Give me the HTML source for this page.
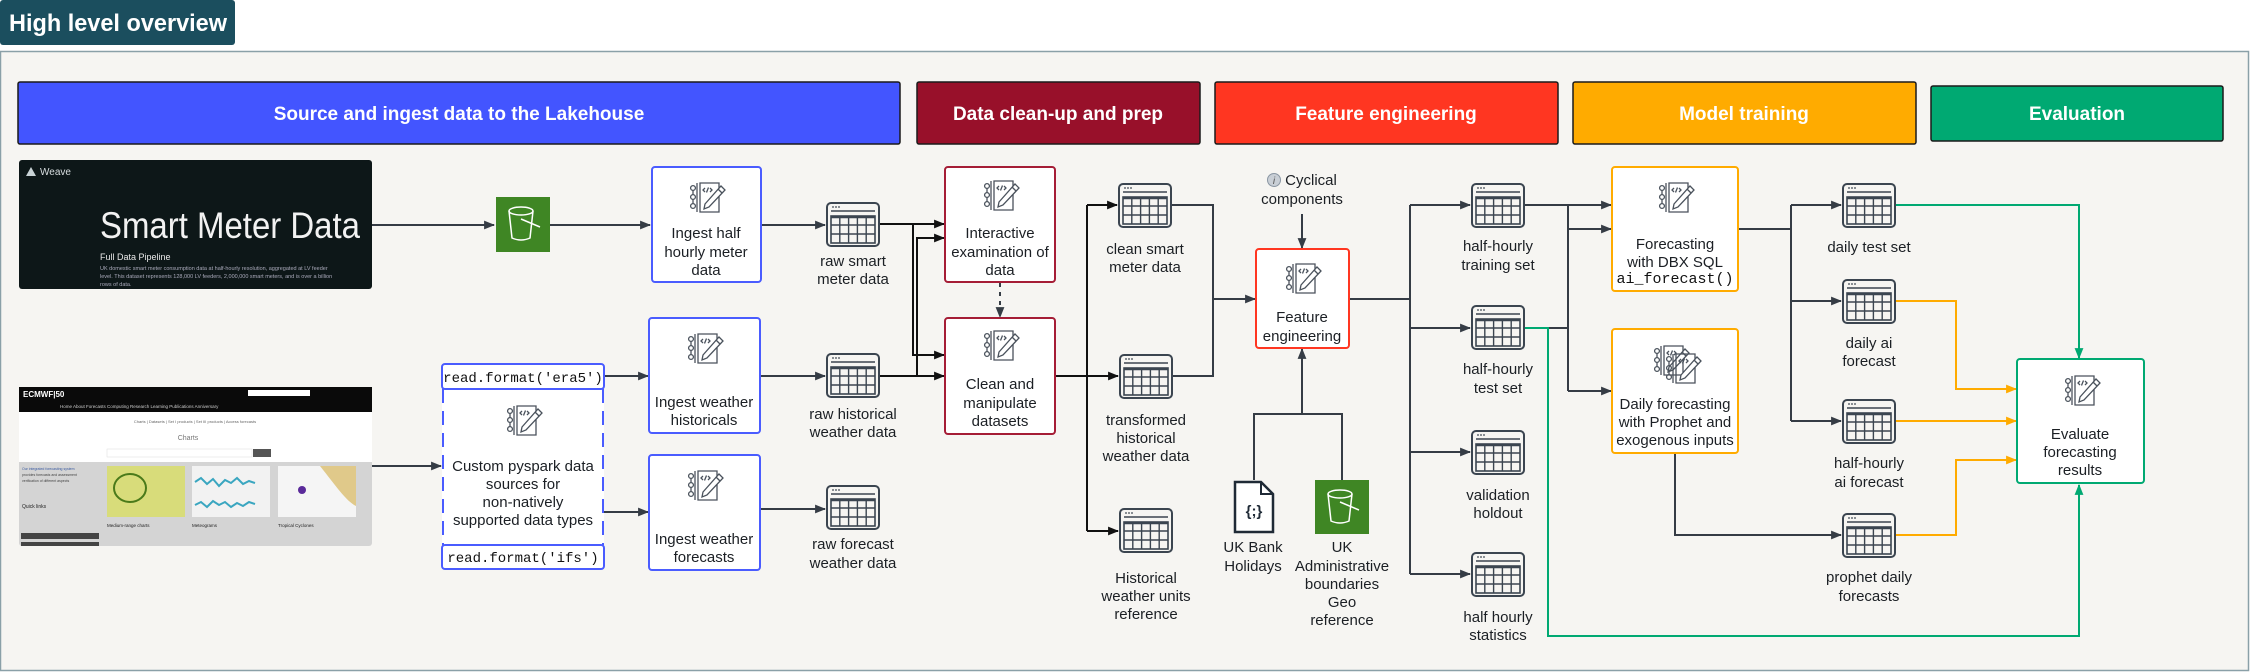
<!DOCTYPE html>
<html><head><meta charset="utf-8"><style>
html,body{margin:0;padding:0;background:#fff;}
svg{display:block;}
text{font-family:"Liberation Sans",sans-serif;}
.l{font-size:15px;fill:#1b1f24;text-anchor:middle;}
.m{font-family:"Liberation Mono",monospace;font-size:14px;fill:#111;text-anchor:middle;}
.b{font-size:19px;font-weight:bold;fill:#fff;text-anchor:middle;}
</style></head><body>
<svg width="2250" height="672" viewBox="0 0 2250 672" xmlns="http://www.w3.org/2000/svg">
<defs>
<marker id="ad" viewBox="0 0 10 10" refX="9" refY="5" markerWidth="11" markerHeight="11" orient="auto" markerUnits="userSpaceOnUse"><path d="M0,1 L10,5 L0,9z" fill="#353c45"/></marker>
<marker id="ak" viewBox="0 0 10 10" refX="9" refY="5" markerWidth="11" markerHeight="11" orient="auto" markerUnits="userSpaceOnUse"><path d="M0,1 L10,5 L0,9z" fill="#111"/></marker>
<marker id="ao" viewBox="0 0 10 10" refX="9" refY="5" markerWidth="11" markerHeight="11" orient="auto" markerUnits="userSpaceOnUse"><path d="M0,1 L10,5 L0,9z" fill="#ffab00"/></marker>
<marker id="ag" viewBox="0 0 10 10" refX="9" refY="5" markerWidth="11" markerHeight="11" orient="auto" markerUnits="userSpaceOnUse"><path d="M0,1 L10,5 L0,9z" fill="#00a972"/></marker>
<g id="tbl">
<rect x="1" y="1" width="52" height="43" rx="4" fill="#f6f5f2" stroke="#3b4550" stroke-width="2"/>
<line x1="5" y1="9" x2="49" y2="9" stroke="#3b4550" stroke-width="1.6"/>
<circle cx="7" cy="5" r="0.9" fill="#3b4550"/><circle cx="10" cy="5" r="0.9" fill="#3b4550"/><circle cx="13" cy="5" r="0.9" fill="#3b4550"/>
<rect x="5" y="14" width="44" height="27" fill="none" stroke="#3b4550" stroke-width="1.6"/>
<line x1="5" y1="15" x2="49" y2="15" stroke="#3b4550" stroke-width="2.5"/>
<line x1="5" y1="23" x2="49" y2="23" stroke="#3b4550" stroke-width="1.4"/>
<line x1="5" y1="32" x2="49" y2="32" stroke="#3b4550" stroke-width="1.4"/>
<line x1="13.8" y1="14" x2="13.8" y2="41" stroke="#3b4550" stroke-width="1.4"/>
<line x1="22.6" y1="14" x2="22.6" y2="41" stroke="#3b4550" stroke-width="1.4"/>
<line x1="31.4" y1="14" x2="31.4" y2="41" stroke="#3b4550" stroke-width="1.4"/>
<line x1="40.2" y1="14" x2="40.2" y2="41" stroke="#3b4550" stroke-width="1.4"/>
</g>
<g id="nb" fill="none" stroke="#4a525c" stroke-width="1.3">
<path d="M12,1 H31 V30 H12 Z"/>
<path d="M9,1 V30"/>
<circle cx="5" cy="6" r="2.4"/><circle cx="5" cy="15" r="2.4"/><circle cx="5" cy="24" r="2.4"/>
<line x1="5" y1="8.4" x2="5" y2="12.6"/><line x1="5" y1="17.4" x2="5" y2="21.6"/>
<polyline points="17,6 15,8 17,10"/><polyline points="22,6 24,8 22,10"/><line x1="20.5" y1="5.5" x2="18.5" y2="10.5"/>
<path d="M33,4 L37,8 L21,25 L16,27 L17,22 Z" fill="#fff"/>
<line x1="30" y1="7" x2="34" y2="11"/>
</g>
</defs>

<rect x="0" y="0" width="235" height="45" rx="3" fill="#1b4e5e"/>
<text x="9" y="31" font-size="24" font-weight="bold" fill="#fff" textLength="218" lengthAdjust="spacingAndGlyphs">High level overview</text>

<rect x="0.5" y="51.5" width="2248" height="619" fill="#f6f5f2" stroke="#8aa0a8" stroke-width="1.5"/>

<rect x="18" y="82" width="882" height="62" rx="2" fill="#4355ff" stroke="#1a1a1a" stroke-width="1.5"/>
<text class="b" x="459" y="120">Source and ingest data to the Lakehouse</text>
<rect x="917" y="82" width="283" height="62" rx="2" fill="#98102a" stroke="#1a1a1a" stroke-width="1.5"/>
<text class="b" x="1058" y="120">Data clean-up and prep</text>
<rect x="1215" y="82" width="343" height="62" rx="2" fill="#ff3621" stroke="#1a1a1a" stroke-width="1.5"/>
<text class="b" x="1386" y="120">Feature engineering</text>
<rect x="1573" y="82" width="343" height="62" rx="2" fill="#ffab00" stroke="#1a1a1a" stroke-width="1.5"/>
<text class="b" x="1744" y="120">Model training</text>
<rect x="1931" y="86" width="292" height="55" rx="2" fill="#00a972" stroke="#1a1a1a" stroke-width="1.5"/>
<text class="b" x="2077" y="120">Evaluation</text>

<rect x="19" y="160" width="353" height="129" rx="3" fill="#0d1718"/>
<path d="M26,176 L31,167 L36,176 Z" fill="#c9d3d6"/>
<text x="40" y="175" font-size="10" fill="#d8dee0">Weave</text>
<text x="100" y="238" font-size="37" fill="#f2f2f2" textLength="260" lengthAdjust="spacingAndGlyphs">Smart Meter Data</text>
<text x="100" y="260" font-size="9" fill="#e8e8e8">Full Data Pipeline</text>
<text x="100" y="270" font-size="5.5" fill="#aab">UK domestic smart meter consumption data at half-hourly resolution, aggregated at LV feeder</text>
<text x="100" y="278" font-size="5.5" fill="#aab">level. This dataset represents 128,000 LV feeders, 2,000,000 smart meters, and is over a billion</text>
<text x="100" y="286" font-size="5.5" fill="#aab">rows of data.</text>

<rect x="19" y="387" width="353" height="159" rx="3" fill="#d4d4d4"/>
<rect x="19" y="387" width="353" height="25" fill="#0a0a0a"/>
<text x="23" y="397" font-size="8" font-weight="bold" fill="#fff">ECMWF|50</text>
<rect x="248" y="390" width="62" height="6" fill="#fff"/>
<text x="60" y="408" font-size="4.5" fill="#ccc">Home     About     Forecasts     Computing     Research     Learning     Publications     Anniversary</text>
<rect x="19" y="412" width="353" height="50" fill="#fff"/>
<text x="195" y="423" font-size="4" fill="#666" text-anchor="middle">Charts | Datasets | Set I products | Set III products | Access forecasts</text>
<text x="188" y="440" font-size="7" fill="#777" text-anchor="middle">Charts</text>
<rect x="107" y="449" width="145" height="8" fill="#fff" stroke="#ddd" stroke-width="0.5"/>
<rect x="253" y="449" width="18" height="8" fill="#555"/>
<rect x="107" y="466" width="78" height="51" fill="#d8dc7a"/>
<ellipse cx="130" cy="488" rx="16" ry="14" fill="none" stroke="#4a7a1a" stroke-width="2"/>
<rect x="192" y="466" width="78" height="51" fill="#f2f2f2"/>
<path d="M195,482 l6,-4 6,6 6,-5 6,7 6,-6 6,3 6,-5 6,6 6,-3 6,2 M195,505 l6,-3 6,5 6,-6 6,4 6,-3 6,5 6,-4 6,3 6,-4 6,2" stroke="#3aa6c0" stroke-width="2" fill="none"/>
<rect x="278" y="466" width="78" height="51" fill="#f5f5f5"/>
<path d="M320,466 h36 v40 c-10,-5 -20,-20 -36,-40z" fill="#e0c98a"/>
<circle cx="302" cy="490" r="4" fill="#5a2a9a"/>
<text x="22" y="470" font-size="3.5" fill="#3a5aa0">Our integrated forecasting system</text>
<text x="22" y="476" font-size="3.5" fill="#444">provides forecasts and assessment</text>
<text x="22" y="482" font-size="3.5" fill="#444">verification of different aspects</text>
<text x="22" y="508" font-size="5" fill="#222">Quick links</text>
<rect x="21" y="533" width="78" height="6" fill="#444"/>
<rect x="21" y="542" width="78" height="4" fill="#444"/>
<text x="107" y="527" font-size="4.5" fill="#222">Medium-range charts</text>
<text x="192" y="527" font-size="4.5" fill="#222">Meteograms</text>
<text x="278" y="527" font-size="4.5" fill="#222">Tropical Cyclones</text>

<rect x="496" y="197" width="54" height="55" fill="#3f8624"/>
<g fill="none" stroke="#fff" stroke-width="1.5">
<ellipse cx="521" cy="211" rx="12" ry="4"/>
<path d="M509,211 L512,238 Q521,242 530,238 L533,211"/>
<path d="M521,219 L540,227"/>
</g>
<rect x="1315" y="480" width="54" height="54" fill="#3f8624"/>
<g fill="none" stroke="#fff" stroke-width="1.5">
<ellipse cx="1340" cy="494" rx="12" ry="4"/>
<path d="M1328,494 L1331,521 Q1340,525 1349,521 L1352,494"/>
<path d="M1340,502 L1359,510"/>
</g>
<path d="M1235,482 H1261 L1273,494 V532 H1235 Z" fill="#fff" stroke="#1f2a36" stroke-width="2.5"/>
<path d="M1261,482 V494 H1273" fill="none" stroke="#1f2a36" stroke-width="2"/>
<text x="1254" y="516" font-size="15" font-weight="bold" fill="#1f2a36" text-anchor="middle" font-family="Liberation Mono">{;}</text>

<g fill="none" stroke="#353c45" stroke-width="2">
<path d="M372,225 H494" marker-end="url(#ad)"/>
<path d="M550,225 H650" marker-end="url(#ad)"/>
<path d="M761,225 H825" marker-end="url(#ad)"/>
<path d="M372,466 H441" marker-end="url(#ad)"/>
<path d="M604,376 H648" marker-end="url(#ad)"/>
<path d="M604,512 H648" marker-end="url(#ad)"/>
<path d="M760,376 H825" marker-end="url(#ad)"/>
<path d="M760,509 H825" marker-end="url(#ad)"/>
<path d="M1000,283 V317" stroke-dasharray="4,5" marker-end="url(#ad)"/>
<path d="M1172,205 H1213 V376 H1173"/>
<path d="M1213,299 H1255" marker-end="url(#ad)"/>
<path d="M1302,214 V248" marker-end="url(#ad)"/>
<path d="M1254,480 V414 H1342 V480"/>
<path d="M1302,414 V349" marker-end="url(#ad)"/>
<path d="M1349,299 H1410"/>
<path d="M1410,205 V574"/>
<path d="M1410,205 H1470" marker-end="url(#ad)"/>
<path d="M1410,328 H1470" marker-end="url(#ad)"/>
<path d="M1410,452 H1470" marker-end="url(#ad)"/>
<path d="M1410,574 H1470" marker-end="url(#ad)"/>
<path d="M1525,205 H1611" marker-end="url(#ad)"/>
<path d="M1525,328 H1568"/>
<path d="M1568,205 V391"/>
<path d="M1568,229 H1611" marker-end="url(#ad)"/>
<path d="M1568,391 H1611" marker-end="url(#ad)"/>
<path d="M1738,229 H1791"/>
<path d="M1791,205 V421"/>
<path d="M1791,205 H1841" marker-end="url(#ad)"/>
<path d="M1791,301 H1841" marker-end="url(#ad)"/>
<path d="M1791,421 H1841" marker-end="url(#ad)"/>
<path d="M1675,453 V535 H1841" marker-end="url(#ad)"/>
</g>
<g fill="none" stroke="#111" stroke-width="2">
<path d="M880,224 H944" marker-end="url(#ak)"/>
<path d="M913,224 V355 H944" marker-end="url(#ak)"/>
<path d="M880,376 H944" marker-end="url(#ak)"/>
<path d="M917,376 V238 H944" marker-end="url(#ak)"/>
<path d="M1055,376 H1087"/>
<path d="M1087,205 V531"/>
<path d="M1087,205 H1117" marker-end="url(#ak)"/>
<path d="M1087,376 H1118" marker-end="url(#ak)"/>
<path d="M1087,531 H1118" marker-end="url(#ak)"/>
</g>
<g fill="none" stroke="#00a972" stroke-width="2">
<path d="M1525,328 H1548 V636 H2079 V485" marker-end="url(#ag)"/>
<path d="M1896,205 H2079 V358" marker-end="url(#ag)"/>
</g>
<g fill="none" stroke="#ffab00" stroke-width="2">
<path d="M1896,301 H1956 V389 H2016" marker-end="url(#ao)"/>
<path d="M1896,421 H2016" marker-end="url(#ao)"/>
<path d="M1896,535 H1956 V460 H2016" marker-end="url(#ao)"/>
</g>

<g stroke-width="2">
<rect x="652" y="167" width="109" height="115" rx="3" fill="#fff" stroke="#4a5cff"/>
<rect x="649" y="318" width="111" height="115" rx="3" fill="#fff" stroke="#4a5cff"/>
<rect x="649" y="455" width="111" height="115" rx="3" fill="#fff" stroke="#4a5cff"/>
<rect x="945" y="167" width="110" height="115" rx="3" fill="#fff" stroke="#a51d36"/>
<rect x="945" y="318" width="110" height="116" rx="3" fill="#fff" stroke="#a51d36"/>
<rect x="1256" y="249" width="93" height="99" rx="3" fill="#fff" stroke="#ff3621"/>
<rect x="1612" y="167" width="126" height="124" rx="3" fill="#fff" stroke="#ffab00"/>
<rect x="1612" y="329" width="126" height="124" rx="3" fill="#fff" stroke="#ffab00"/>
<rect x="2017" y="359" width="127" height="124" rx="3" fill="#fff" stroke="#00a972"/>
</g>
<rect x="442" y="389" width="162" height="156" fill="#fff"/>
<path d="M443,389 V545 M603,389 V545" stroke="#4a5cff" stroke-width="2" stroke-dasharray="14,8"/>
<rect x="442" y="364" width="162" height="25" rx="3" fill="#fff" stroke="#4a5cff" stroke-width="2"/>
<rect x="442" y="545" width="162" height="24" rx="3" fill="#fff" stroke="#4a5cff" stroke-width="2"/>
<text class="m" x="523" y="382">read.format('era5')</text>
<text class="m" x="523" y="562">read.format('ifs')</text>

<use href="#nb" x="688" y="182"/>
<use href="#nb" x="686" y="333"/>
<use href="#nb" x="686" y="470"/>
<use href="#nb" x="982" y="180"/>
<use href="#nb" x="982" y="330"/>
<use href="#nb" x="505" y="405"/>
<use href="#nb" x="1284" y="263"/>
<use href="#nb" x="1657" y="182"/>
<use href="#nb" x="1652" y="345"/>
<use href="#nb" x="1664" y="353"/>
<use href="#nb" x="2063" y="375"/>

<use href="#tbl" x="826" y="202"/>
<use href="#tbl" x="826" y="353"/>
<use href="#tbl" x="826" y="485"/>
<use href="#tbl" x="1118" y="183"/>
<use href="#tbl" x="1119" y="354"/>
<use href="#tbl" x="1119" y="508"/>
<use href="#tbl" x="1471" y="183"/>
<use href="#tbl" x="1471" y="305"/>
<use href="#tbl" x="1471" y="430"/>
<use href="#tbl" x="1471" y="552"/>
<use href="#tbl" x="1842" y="183"/>
<use href="#tbl" x="1842" y="279"/>
<use href="#tbl" x="1842" y="399"/>
<use href="#tbl" x="1842" y="513"/>

<text class="l" x="706" y="238">Ingest half</text>
<text class="l" x="706" y="257">hourly meter</text>
<text class="l" x="706" y="275">data</text>
<text class="l" x="704" y="407">Ingest weather</text>
<text class="l" x="704" y="425">historicals</text>
<text class="l" x="704" y="544">Ingest weather</text>
<text class="l" x="704" y="562">forecasts</text>
<text class="l" x="523" y="471">Custom pyspark data</text>
<text class="l" x="523" y="489">sources for</text>
<text class="l" x="523" y="507">non-natively</text>
<text class="l" x="523" y="525">supported data types</text>
<text class="l" x="1000" y="238">Interactive</text>
<text class="l" x="1000" y="257">examination of</text>
<text class="l" x="1000" y="275">data</text>
<text class="l" x="1000" y="389">Clean and</text>
<text class="l" x="1000" y="408">manipulate</text>
<text class="l" x="1000" y="426">datasets</text>
<text class="l" x="1302" y="322">Feature</text>
<text class="l" x="1302" y="341">engineering</text>
<text class="l" x="1675" y="249">Forecasting</text>
<text class="l" x="1675" y="267">with DBX SQL</text>
<text class="m" x="1675" y="283" style="font-size:15px">ai_forecast()</text>
<text class="l" x="1675" y="409">Daily forecasting</text>
<text class="l" x="1675" y="427">with Prophet and</text>
<text class="l" x="1675" y="445">exogenous inputs</text>
<text class="l" x="2080" y="439">Evaluate</text>
<text class="l" x="2080" y="457">forecasting</text>
<text class="l" x="2080" y="475">results</text>

<text class="l" x="853" y="266">raw smart</text>
<text class="l" x="853" y="284">meter data</text>
<text class="l" x="853" y="419">raw historical</text>
<text class="l" x="853" y="437">weather data</text>
<text class="l" x="853" y="549">raw forecast</text>
<text class="l" x="853" y="568">weather data</text>
<text class="l" x="1145" y="254">clean smart</text>
<text class="l" x="1145" y="272">meter data</text>
<text class="l" x="1146" y="425">transformed</text>
<text class="l" x="1146" y="443">historical</text>
<text class="l" x="1146" y="461">weather data</text>
<text class="l" x="1146" y="583">Historical</text>
<text class="l" x="1146" y="601">weather units</text>
<text class="l" x="1146" y="619">reference</text>
<circle cx="1274" cy="180" r="6.5" fill="#c9cfd6" stroke="#8a96a3" stroke-width="1"/>
<text x="1274" y="184" font-size="10" font-style="italic" fill="#555" text-anchor="middle" font-family="Liberation Serif">i</text>
<text class="l" x="1311" y="185">Cyclical</text>
<text class="l" x="1302" y="204">components</text>
<text class="l" x="1253" y="552">UK Bank</text>
<text class="l" x="1253" y="571">Holidays</text>
<text class="l" x="1342" y="552">UK</text>
<text class="l" x="1342" y="571">Administrative</text>
<text class="l" x="1342" y="589">boundaries</text>
<text class="l" x="1342" y="607">Geo</text>
<text class="l" x="1342" y="625">reference</text>
<text class="l" x="1498" y="251">half-hourly</text>
<text class="l" x="1498" y="270">training set</text>
<text class="l" x="1498" y="374">half-hourly</text>
<text class="l" x="1498" y="393">test set</text>
<text class="l" x="1498" y="500">validation</text>
<text class="l" x="1498" y="518">holdout</text>
<text class="l" x="1498" y="622">half hourly</text>
<text class="l" x="1498" y="640">statistics</text>
<text class="l" x="1869" y="252">daily test set</text>
<text class="l" x="1869" y="348">daily ai</text>
<text class="l" x="1869" y="366">forecast</text>
<text class="l" x="1869" y="468">half-hourly</text>
<text class="l" x="1869" y="487">ai forecast</text>
<text class="l" x="1869" y="582">prophet daily</text>
<text class="l" x="1869" y="601">forecasts</text>
</svg>
</body></html>
